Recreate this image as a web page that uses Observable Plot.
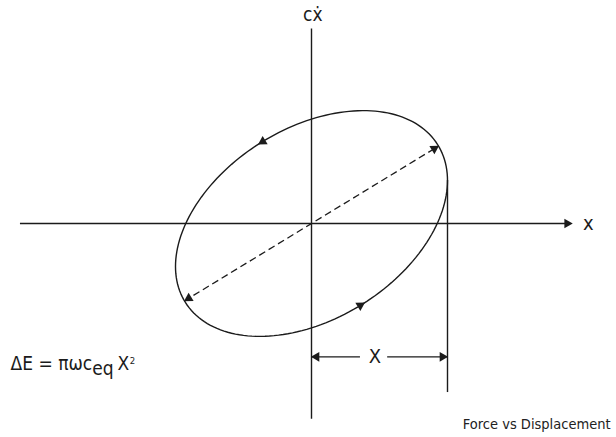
<!DOCTYPE html>
<html>
<head>
<meta charset="utf-8">
<script src="https://cdn.jsdelivr.net/npm/d3@7"></script>
<script src="https://cdn.jsdelivr.net/npm/@observablehq/plot@0.6"></script>
<style>
  body { margin: 0; background: #fff; }
  #chart svg { display: block; }
</style>
</head>
<body>
<div id="chart"></div>
<script>
// ---- Diagram parameters (in units of the displacement amplitude X) ----
const amplitude = [1.0, 0.83];        // [X, peak of c·ẋ axis value]
const phaseDeg = [22.4];              // phase lead of force vs displacement
const flowArrowPhase = [111, -69];    // cycle phase (deg) where direction arrows sit
const diagonalPhase = [20.9, 200.9];  // cycle phase (deg) of dashed-line ends
const xAxisExtent = [-2.14, 1.88];
const yAxisExtent = [-1.44, 1.43];
const dimensionLevel = [-0.98];       // height of the "X" dimension line
const extensionBottom = [-1.243];
const dimensionGap = [0.36, 0.56];    // gap in dimension line around label
const axisLabels = ["x", "cẋ"];
const dimensionLabel = ["X"];
const energyLabel = ["ΔE = πωc", "eq", "X", "2"];
const captionText = ["Force vs Displacement"];

const W = 616, H = 437;
const pxPerUnit = 136;
const origin = [311, 223];
const xDomain = [-origin[0] / pxPerUnit, (W - origin[0]) / pxPerUnit];
const yDomain = [-(H - origin[1]) / pxPerUnit, origin[1] / pxPerUnit];

const rad = Math.PI / 180;
const [Xa, Ya] = amplitude;
const psi = phaseDeg[0] * rad;
const pt = deg => ({x: Xa * Math.cos(deg * rad), y: Ya * Math.sin(deg * rad + psi)});

// closed loop
const loop = d3.range(0, 361, 2).map(pt);

// direction arrows along the loop (tangent)
const flow = flowArrowPhase.map(deg => {
  const p = pt(deg);
  const dx = -Xa * Math.sin(deg * rad), dy = Ya * Math.cos(deg * rad + psi);
  return {...p, rot: Math.atan2(dx, dy) / rad};
});

// dashed diagonal with arrowheads at its ends
const headBack = 5 / pxPerUnit;
const diag = diagonalPhase.map(deg => {
  const p = pt(deg);
  const len = Math.hypot(p.x, p.y);
  return {x: p.x * (1 - headBack / len), y: p.y * (1 - headBack / len), rot: Math.atan2(p.x, p.y) / rad};
});

const ink = "#1b1b1b";
const font = "'DejaVu Sans Condensed', 'Liberation Sans Narrow', sans-serif";
const head = {symbol: "triangle", r: 3.6, fill: ink, stroke: "none"};

const plot = Plot.plot({
  width: W,
  height: H,
  margin: 0,
  x: {domain: xDomain, axis: null},
  y: {domain: yDomain, axis: null},
  style: {fontFamily: font, background: "#fff", color: ink},
  marks: [
    // axes
    Plot.ruleY([0], {x1: xAxisExtent[0], x2: xAxisExtent[1], stroke: ink, strokeWidth: 1.4}),
    Plot.ruleX([0], {y1: yAxisExtent[0], y2: yAxisExtent[1], stroke: ink, strokeWidth: 1.4}),
    Plot.dot([{x: xAxisExtent[1], y: 0}], {x: "x", y: "y", ...head, rotate: 90}),
    // hysteresis loop
    Plot.line(loop, {x: "x", y: "y", stroke: ink, strokeWidth: 1.4}),
    Plot.dot(flow, {x: "x", y: "y", ...head, rotate: "rot"}),
    // dashed diagonal
    Plot.link([diag], {x1: d => d[0].x, y1: d => d[0].y, x2: d => d[1].x, y2: d => d[1].y, stroke: ink, strokeWidth: 1.3, strokeDasharray: "7,4"}),
    Plot.dot(diag, {x: "x", y: "y", ...head, rotate: "rot"}),
    // extension line at x = X
    Plot.ruleX([Xa], {y1: Ya * Math.sin(psi), y2: extensionBottom[0], stroke: ink, strokeWidth: 1.4}),
    // dimension line with gap for label
    Plot.ruleY(dimensionLevel, {x1: 0, x2: dimensionGap[0], stroke: ink, strokeWidth: 1.3}),
    Plot.ruleY(dimensionLevel, {x1: dimensionGap[1], x2: Xa, stroke: ink, strokeWidth: 1.3}),
    Plot.dot([{x: headBack, r: -90}, {x: Xa - headBack, r: 90}], {x: "x", y: () => dimensionLevel[0], ...head, rotate: "r"}),
    // labels
    Plot.text([axisLabels[0]], {x: () => 2.035, y: () => 0.0, text: d => d, fontSize: 20, fill: ink}),
    Plot.text([axisLabels[1]], {x: () => 0.01, y: () => 1.535, text: d => d, fontSize: 19, fill: ink}),
    Plot.text(dimensionLabel, {x: () => 0.467, y: () => dimensionLevel[0], text: d => d, fontSize: 20, fill: ink}),
    Plot.text([energyLabel.join("")], {x: () => -2.213, y: () => -1.03, text: d => d, textAnchor: "start", fontSize: 19, fill: ink}),
    Plot.text(captionText, {x: () => 2.199, y: () => -1.478, text: d => d, textAnchor: "end", fontSize: 14.5, fill: "#222"})
  ]
});

// rich formatting for the energy formula (subscript / superscript)
d3.select(plot).selectAll("text").each(function () {
  if (this.textContent === energyLabel.join("")) {
    const t = d3.select(this);
    t.text(null);
    t.append("tspan").text(energyLabel[0]);
    t.append("tspan").attr("dy", "0.3em").text(energyLabel[1]);
    t.append("tspan").attr("dy", "-0.3em").attr("dx", "0.2em").text(energyLabel[2]);
    t.append("tspan").attr("dy", "-0.55em").attr("dx", "0.08em").attr("font-size", "0.5em").text(energyLabel[3]);
  }
});

document.getElementById("chart").append(plot);
</script>
</body>
</html>
